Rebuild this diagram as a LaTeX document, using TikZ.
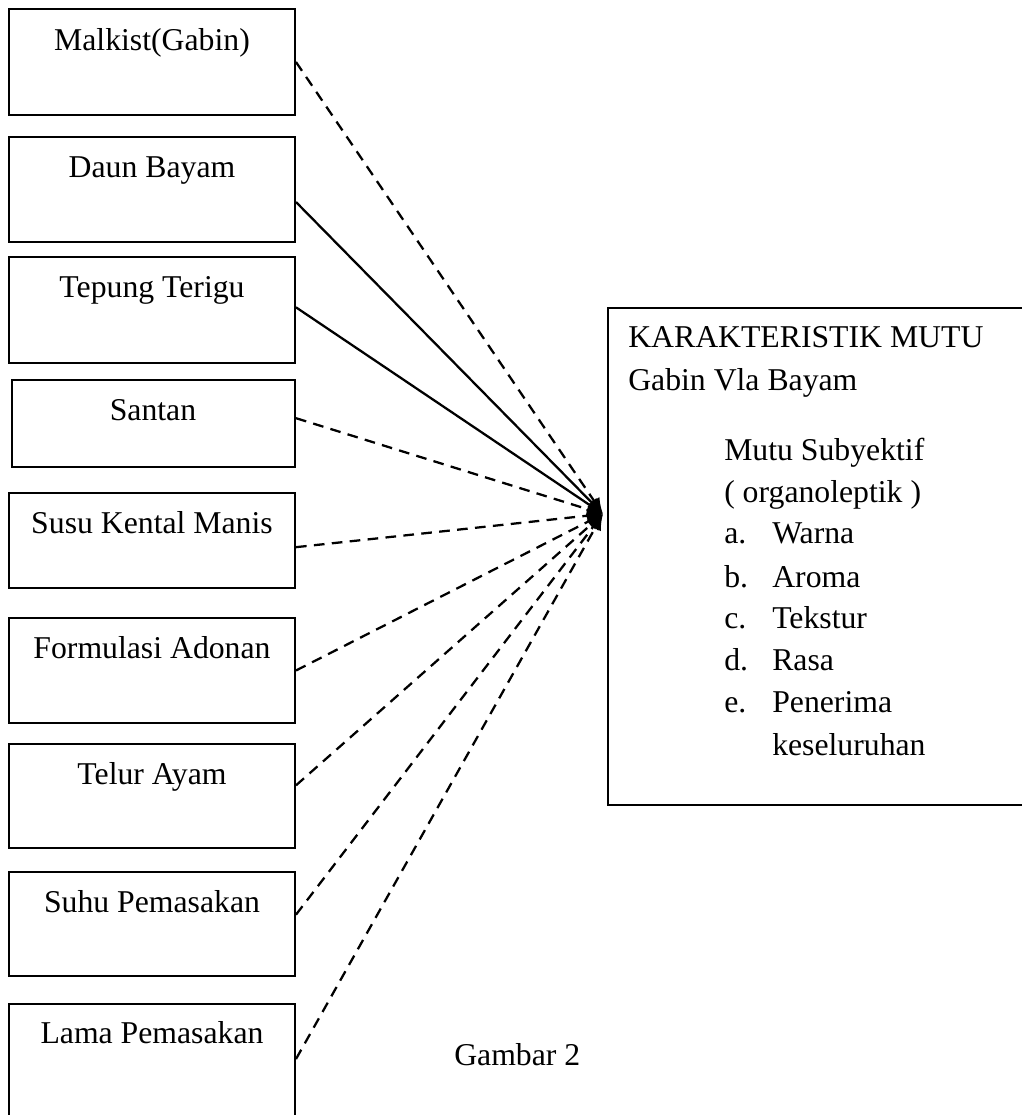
\documentclass[tikz,border=0pt]{standalone}
\usepackage{fontspec}
\setmainfont{Liberation Serif}
\usetikzlibrary{arrows.meta,fit}
\begin{document}
\begin{tikzpicture}[x=0.75pt,y=-0.75pt,
  box/.style={draw, line width=1.5pt, inner sep=0pt},
  lbl/.style={font=\fontsize{23.8}{31.5}\selectfont, inner sep=0pt, anchor=base},
  lbw/.style={lbl, anchor=base west},
  con/.style={line width=1.7pt, -{Latex[length=12pt,width=10pt]}},
  dsh/.style={con, dash pattern=on 8pt off 5.5pt}]
\useasboundingbox (0,0) rectangle (1022,1115);
\clip (0,0) rectangle (1022,1115);
% left boxes
\node[box, fit={(9,9)(295,115)}] (b1) {};
\node[box, fit={(9,137)(295,242)}] (b2) {};
\node[box, fit={(9,257)(295,363)}] (b3) {};
\node[box, fit={(12,380)(295,467)}] (b4) {};
\node[box, fit={(9,493)(295,588)}] (b5) {};
\node[box, fit={(9,618)(295,723)}] (b6) {};
\node[box, fit={(9,744)(295,848)}] (b7) {};
\node[box, fit={(9,872)(295,976)}] (b8) {};
\node[box, fit={(9,1004)(295,1130)}] (b9) {};
% labels
\node[lbl] (t1) at (152,50) {Malkist(Gabin)};
\node[lbl] (t2) at (152,177) {Daun Bayam};
\node[lbl] (t3) at (152,297) {Tepung Terigu};
\node[lbl] (t4) at (153,420) {Santan};
\node[lbl] (t5) at (152,533) {Susu Kental Manis};
\node[lbl] (t6) at (152,658) {Formulasi Adonan};
\node[lbl] (t7) at (152,784) {Telur Ayam};
\node[lbl] (t8) at (152,912) {Suhu Pemasakan};
\node[lbl] (t9) at (152,1043) {Lama Pemasakan};
% right box
\node[box, fit={(608,308)(1040,805)}] (rb) {};
\node[lbw] (r1) at (628,347) {KARAKTERISTIK MUTU};
\node[lbw] (r2) at (628,390) {Gabin Vla Bayam};
\node[lbw] (r3) at (724,460) {Mutu Subyektif};
\node[lbw] (r4) at (724,502) {( organoleptik )};
\node[lbw] (ia) at (724,543) {a.};
\node[lbw] (ib) at (724,587) {b.};
\node[lbw] (ic) at (724,628) {c.};
\node[lbw] (id) at (724,670) {d.};
\node[lbw] (ie) at (724,712) {e.};
\node[lbw] (ja) at (772,543) {Warna};
\node[lbw] (jb) at (772,587) {Aroma};
\node[lbw] (jc) at (772,628) {Tekstur};
\node[lbw] (jd) at (772,670) {Rasa};
\node[lbw] (je) at (772,712) {Penerima};
\node[lbw] (jf) at (772,755) {keseluruhan};
% caption
\node[lbw] (cap) at (454,1065) {Gambar 2};
% connectors
\coordinate (hub) at (603,514);
\draw[dsh] (b1.east) -- (hub);
\draw[con] ([yshift=-9.4pt]b2.east) -- (hub);
\draw[con] ([yshift=2pt]b3.east) -- (hub);
\draw[dsh] ([yshift=4pt]b4.east) -- (hub);
\draw[dsh] ([yshift=-5pt]b5.east) -- (hub);
\draw[dsh] (b6.east) -- (hub);
\draw[dsh] ([yshift=8pt]b7.east) -- (hub);
\draw[dsh] ([yshift=7pt]b8.east) -- (hub);
\draw[dsh] ([yshift=6pt]b9.east) -- (hub);
\end{tikzpicture}
\end{document}
